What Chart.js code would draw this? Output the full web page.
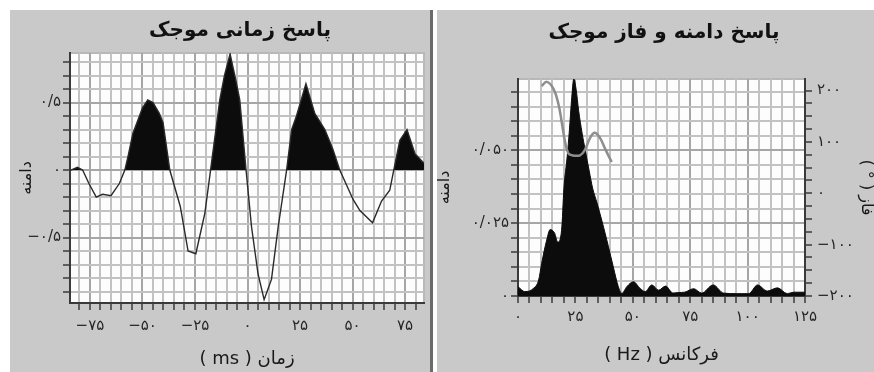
<!DOCTYPE html>
<html lang="fa">
<head>
<meta charset="utf-8">
<title>پاسخ موجک</title>
<script src="https://cdn.jsdelivr.net/npm/chart.js@4.4.1/dist/chart.umd.min.js"></script>
<style>
  html, body { margin: 0; padding: 0; background: #fff; }
  body { width: 874px; height: 372px; position: relative; overflow: hidden; }
  .panel { position: absolute; top: 10px; height: 362px; background: #c9c9c9; }
  #leftPanel { left: 10px; width: 420px; border-right: 3px solid #6b6b6b; }
  #rightPanel { left: 437px; width: 437px; }
  canvas { position: absolute; left: 0; top: 0; }
</style>
</head>
<body>
<div class="panel" id="leftPanel"><canvas id="timeChart" width="420" height="362" style="width:420px;height:362px"></canvas></div>
<div class="panel" id="rightPanel"><canvas id="specChart" width="437" height="362" style="width:437px;height:362px"></canvas></div>
<script>
// wavelet in time (ms) and its amplitude
const timeMs = [-84, -81, -78.5, -75.5, -72, -69, -65, -61, -58.4, -56.9, -54.6, -50, -47.5, -45, -42, -40.2, -37,
  -32, -28.3, -24.6, -20.3, -17.6, -13.2, -11, -8.3, -5.5, -3.7, -0.7, 1.9, 5, 7.9, 11.4, 14.6, 18.6,
  21, 23.3, 27.8, 32, 36.8, 40.5, 43.9, 50.3, 53.5, 59.5, 63.8, 67.7, 69.6, 72.5, 75.9, 79.7, 84];
const waveletAmp = [0, 0.02, 0, -0.1, -0.2, -0.18, -0.19, -0.1, 0, 0.1, 0.27, 0.46, 0.52, 0.5, 0.42, 0.35, 0,
  -0.27, -0.6, -0.62, -0.32, 0, 0.52, 0.7, 0.86, 0.66, 0.52, 0, -0.42, -0.77, -0.96, -0.81, -0.42, 0,
  0.3, 0.4, 0.64, 0.42, 0.3, 0.16, 0, -0.22, -0.3, -0.39, -0.23, -0.15, 0, 0.22, 0.3, 0.12, 0.05];
const timeTicks = [-75, -50, -25, 0, 25, 50, 75];
const timeAmpTicks = [-0.5, 0, 0.5];

// amplitude spectrum (Hz)
const freqHz = [0, 3, 6.7, 9, 10.3, 12.5, 14, 16, 17.3, 19, 20, 21.4, 22.4, 23.3, 24.3, 25.3, 26.4, 27.9, 29.3,
  31, 32.5, 34.4, 37.3, 39.4, 41.5, 43.7, 45.2, 47.4, 50.3, 53.2, 55.4, 58.3, 61.2, 64.3, 67.5, 70, 72.5,
  76.5, 80, 85, 89.5, 95, 100.5, 104.3, 108.6, 113, 117.3, 120, 125];
const spectrumAmp = [0.0032, 0.0015, 0.0026, 0.0055, 0.0112, 0.0192, 0.0228, 0.0215, 0.0185, 0.0226, 0.037,
  0.0477, 0.057, 0.067, 0.0745, 0.071, 0.0637, 0.056, 0.05, 0.043, 0.037, 0.032, 0.0235, 0.0169, 0.01,
  0.0032, 0.0009, 0.0032, 0.0049, 0.0026, 0.0015, 0.0038, 0.002, 0.0034, 0.001, 0.0012, 0.0013, 0.0025,
  0.001, 0.0038, 0.001, 0.0008, 0.0008, 0.0038, 0.0017, 0.0028, 0.0008, 0.0013, 0.0013];

// phase (degrees) over the main band
const phaseFreqHz = [10.3, 12.5, 15.4, 17.6, 19, 20.5, 21.9, 23.5, 27, 29.2, 31.4, 33.4, 35.7, 37.9, 40.8];
const phaseDeg = [209, 217, 204, 174, 140, 100, 78, 74, 74, 85, 108, 118, 108, 87, 61];

const freqTicks = [0, 25, 50, 75, 100, 125];
const specAmpTicks = [0, 0.025, 0.05];
const phaseTicks = [-200, -100, 0, 100, 200];

const FONT = "'DejaVu Sans', 'Noto Sans', sans-serif";
Chart.defaults.font.family = FONT;

const faDigits = '۰۱۲۳۴۵۶۷۸۹';
function toFa(v, decimals) {
  if (v === 0) return '۰';
  const s = Math.abs(v).toFixed(decimals).replace('.', '/').replace(/\d/g, d => faDigits[d]);
  return (v < 0 ? '−' : '') + s;
}
function findTick(value, list) {
  return list.find(t => Math.abs(t - value) < 1e-6 * Math.max(1, Math.abs(t)) + 1e-9);
}
function tickLabel(list, decimals) {
  return value => {
    const t = findTick(value, list);
    return t === undefined ? '' : toFa(t, decimals);
  };
}
function gridColor(list) {
  return ctx => (ctx.tick && findTick(ctx.tick.value, list) !== undefined) ? '#a6a6a6' : '#c2c2c2';
}

// white plot background with a light frame
const plotFrame = {
  id: 'plotFrame',
  beforeDraw(chart) {
    const { ctx, chartArea: a } = chart;
    ctx.save();
    ctx.fillStyle = '#fdfdfd';
    ctx.fillRect(a.left, a.top, a.right - a.left, a.bottom - a.top);
    ctx.strokeStyle = '#b8b8b8';
    ctx.lineWidth = 2;
    ctx.strokeRect(a.left, a.top, a.right - a.left, a.bottom - a.top);
    ctx.restore();
  }
};

// panel heading, centred over its plot
const panelTitle = {
  id: 'panelTitle',
  afterDraw(chart, args, opts) {
    const ctx = chart.ctx;
    ctx.save();
    ctx.font = `bold 20px ${FONT}`;
    ctx.fillStyle = '#111';
    ctx.textAlign = 'center';
    ctx.textBaseline = 'middle';
    ctx.fillText(opts.text, opts.x, opts.y);
    ctx.restore();
  }
};

const axisDark = '#3a3a3a';
const tickFont = { family: FONT, size: 15 };

function axisBase(list, decimals, step) {
  return {
    type: 'linear',
    border: { color: axisDark, width: 2 },
    grid: { color: gridColor(list), lineWidth: 2, tickLength: 7, tickColor: axisDark, tickWidth: 1.5 },
    ticks: {
      stepSize: step, includeBounds: false, autoSkip: false, maxRotation: 0, minRotation: 0,
      maxTicksLimit: 1000, color: '#262626', font: tickFont, callback: tickLabel(list, decimals)
    }
  };
}

// time response
const tx = axisBase(timeTicks, 0, 5);
tx.min = -84.5; tx.max = 84;
tx.ticks.padding = 7;
tx.afterFit = s => { s.height = 69; };
tx.title = { display: true, text: '( ms ) زمان', color: '#1a1a1a', font: { family: FONT, size: 18 }, padding: { top: 0, bottom: 2 } };

const ty = axisBase(timeAmpTicks, 1, 0.1);
ty.min = -0.985; ty.max = 0.867;
ty.ticks.padding = 2;
ty.afterFit = s => { s.width = 60; };
ty.title = { display: true, text: 'دامنه', color: '#1a1a1a', font: { family: FONT, size: 16 }, padding: { top: 7, bottom: 0 } };

new Chart(document.getElementById('timeChart'), {
  type: 'line',
  data: {
    datasets: [{
      data: timeMs.map((t, i) => ({ x: t, y: waveletAmp[i] })),
      borderColor: '#2a2a2a',
      borderWidth: 1.4,
      pointRadius: 0,
      tension: 0,
      fill: { target: 'origin', above: '#0c0c0c', below: 'rgba(0,0,0,0)' }
    }]
  },
  options: {
    responsive: false,
    animation: false,
    devicePixelRatio: 1,
    layout: { padding: { left: 0, right: 6, top: 43, bottom: 0 } },
    scales: { x: tx, y: ty },
    plugins: {
      legend: { display: false },
      tooltip: { enabled: false },
      title: { display: false },
      panelTitle: { text: 'پاسخ زمانی موجک', x: 230, y: 21 }
    }
  },
  plugins: [plotFrame, panelTitle]
});

// amplitude and phase spectrum
const fx = axisBase(freqTicks, 0, 5);
fx.min = 0; fx.max = 125;
fx.ticks.padding = 5;
fx.afterFit = s => { s.height = 76; };
fx.title = { display: true, text: '( Hz ) فرکانس', color: '#1a1a1a', font: { family: FONT, size: 18 }, padding: { top: 0, bottom: 6 } };

const fy = axisBase(specAmpTicks, 3, 0.005);
fy.min = 0; fy.max = 0.0745;
fy.ticks.padding = 2;
fy.afterFit = s => { s.width = 81; };
fy.title = { display: true, text: 'دامنه', color: '#1a1a1a', font: { family: FONT, size: 16 }, padding: { top: -2, bottom: 0 } };

const py = axisBase(phaseTicks, 0, 25);
py.position = 'right';
py.min = -200; py.max = 222.6;
py.grid.drawOnChartArea = false;
py.ticks.padding = 5;
py.afterFit = s => { s.width = 69; };
py.title = { display: true, text: '( ° ) فاز', color: '#1a1a1a', font: { family: FONT, size: 16 }, padding: { top: -2, bottom: 0 } };

new Chart(document.getElementById('specChart'), {
  type: 'line',
  data: {
    datasets: [{
      data: phaseFreqHz.map((f, i) => ({ x: f, y: phaseDeg[i] })),
      yAxisID: 'yPhase',
      order: 0,
      borderColor: '#8e8e8e',
      borderWidth: 2.5,
      pointRadius: 0,
      tension: 0.4,
      fill: false
    }, {
      data: freqHz.map((f, i) => ({ x: f, y: spectrumAmp[i] })),
      yAxisID: 'y',
      order: 1,
      borderColor: '#0c0c0c',
      backgroundColor: '#0c0c0c',
      borderWidth: 1,
      pointRadius: 0,
      cubicInterpolationMode: 'monotone',
      fill: 'origin'
    }]
  },
  options: {
    responsive: false,
    animation: false,
    devicePixelRatio: 1,
    layout: { padding: { left: 0, right: 0, top: 69, bottom: 0 } },
    scales: { x: fx, y: fy, yPhase: py },
    plugins: {
      legend: { display: false },
      tooltip: { enabled: false },
      title: { display: false },
      panelTitle: { text: 'پاسخ دامنه و فاز موجک', x: 227, y: 23 }
    }
  },
  plugins: [plotFrame, panelTitle]
});
</script>
</body>
</html>
